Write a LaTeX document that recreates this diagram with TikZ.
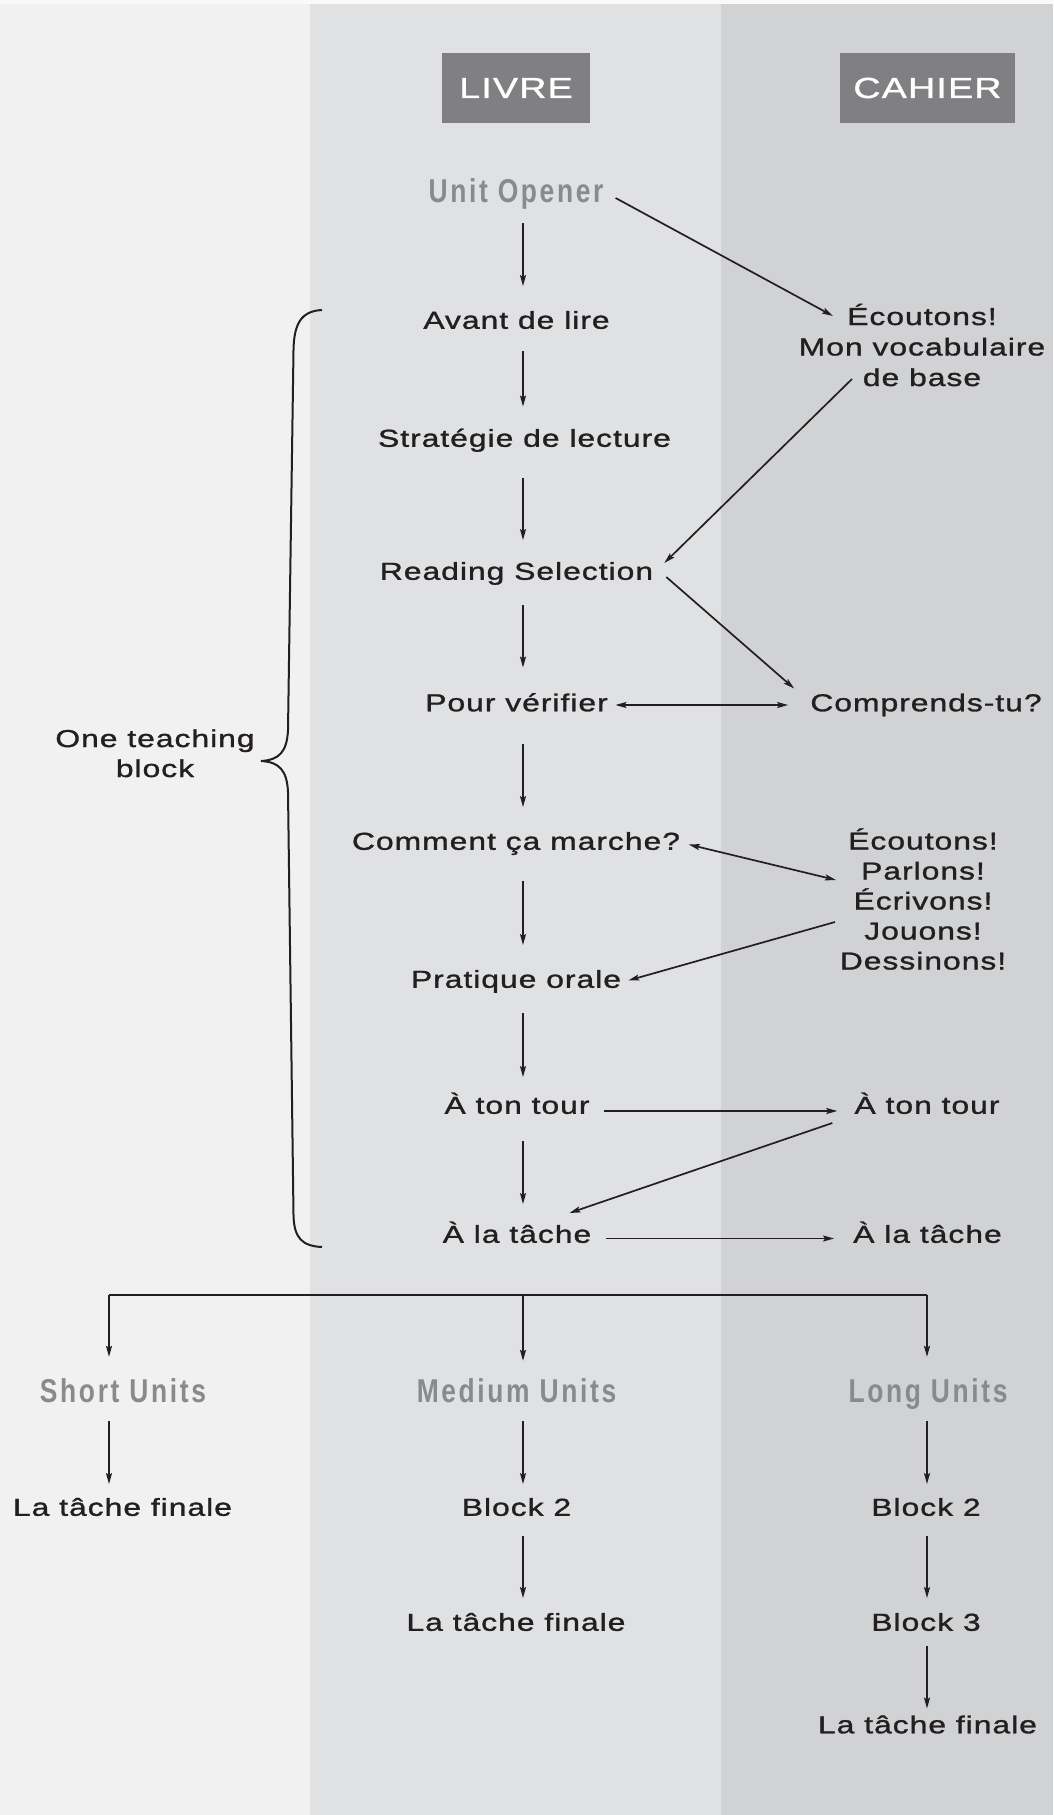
\documentclass[tikz,border=0pt]{standalone}
\usepackage{fontspec}
\usetikzlibrary{arrows.meta,calc}
\newfontfamily\bodyfont{Liberation Sans}[FakeStretch=1.3,LetterSpace=4,FakeBold=1.2]
\newfontfamily\titlefont{Liberation Sans}[FakeStretch=0.8,LetterSpace=8]
\newcommand\fbody{\bodyfont\fontsize{24.5bp}{30.5bp}\selectfont}
\newcommand\fttl{\titlefont\bfseries\fontsize{33bp}{38bp}\selectfont}
\newcommand\fhdr{\bodyfont\fontsize{29bp}{34bp}\selectfont}
\definecolor{ink}{HTML}{231F20}
\definecolor{ttlgray}{HTML}{898A8C}
\definecolor{hdrgray}{HTML}{808083}
\definecolor{bandL}{HTML}{F1F1F1}
\definecolor{bandM}{HTML}{E0E1E3}
\definecolor{bandR}{HTML}{D1D2D4}
\tikzset{
  lbl/.style={font=\fbody, text=ink, inner sep=0pt, text height=17.5bp, text depth=0pt},
  ttl/.style={font=\fttl, text=ttlgray, inner sep=0pt, text height=24bp, text depth=0pt},
  multi/.style={font=\fbody, text=ink, inner sep=0pt, align=center, anchor=base},
  hdr/.style={fill=hdrgray, text=white, font=\fhdr, inner sep=0pt, minimum height=70bp},
  tip/.tip={Stealth[length=11bp,width=6bp,inset=2bp]},
  arr/.style={draw=ink, line width=1.7bp, -tip},
  darr/.style={draw=ink, line width=1.7bp, tip-tip},
}
\begin{document}
\begin{tikzpicture}[x=1bp,y=-1bp]
\useasboundingbox (0,0) rectangle (1053,1815);
% background bands
\fill[bandL] (0,0) rectangle (310,1815);
\fill[bandM] (310,0) rectangle (721,1815);
\fill[bandR] (721,0) rectangle (1053,1815);
\fill[white!60!bandL] (0,0) rectangle (1053,4);

% headers
\node[hdr, minimum width=148bp] (livre) at (516,88) {LIVRE};
\node[hdr, minimum width=175bp] (cahier) at (927.5,88) {CAHIER};

% LIVRE column
\coordinate (colL) at (523,0);
\node[ttl] (uo) at (516,190.5) {Unit Opener};
\node[lbl] (av) at (516.5,320) {Avant de lire};
\node[lbl] (st) at (524.5,438) {Stratégie de lecture};
\node[lbl] (rs) at (516.5,571) {Reading Selection};
\node[lbl] (pv) at (516.5,702.5) {Pour vérifier};
\node[lbl] (cm) at (516,841) {Comment ça marche?};
\node[lbl] (po) at (516,979) {Pratique orale};
\node[lbl] (at1) at (517,1105) {À ton tour};
\node[lbl] (lt1) at (517,1234) {À la tâche};

% CAHIER column (base anchor = baseline of last line)
\node[multi] (ecA) at (922,386) {Écoutons!\\Mon vocabulaire\\de base};
\node[lbl] (ct) at (926,702.5) {Comprends-tu?};
\node[multi, font=\bodyfont\fontsize{24.5bp}{30bp}\selectfont] (ecB) at (923,969.5) {Écoutons!\\Parlons!\\Écrivons!\\Jouons!\\Dessinons!};
\node[lbl] (at2) at (927,1105) {À ton tour};
\node[lbl] (lt2) at (927.5,1234) {À la tâche};

% left label + brace
\node[multi, font=\bodyfont\fontsize{24.5bp}{30bp}\selectfont] (otb) at (155,777) {One teaching\\block};
\draw[ink, line width=2bp]
  (322,310) .. controls (301,311) and (294,324) .. (293.5,350)
  -- (288,730) .. controls (287,752) and (279,760) .. (261,761)
  .. controls (279,762) and (287,770) .. (288,792)
  -- (293.5,1215) .. controls (294,1238) and (302,1246) .. (322,1247);

% vertical arrows in LIVRE column
\draw[arr, shorten <=20.5bp, shorten >=25bp] (uo.south -| colL) -- (av.north -| colL);
\draw[arr, shorten <=22bp, shorten >=22.5bp] (av.south -| colL) -- (st.north -| colL);
\draw[arr, shorten <=31bp, shorten >=22bp] (st.south -| colL) -- (rs.north -| colL);
\draw[arr, shorten <=25bp, shorten >=26bp] (rs.south -| colL) -- (pv.north -| colL);
\draw[arr, shorten <=33bp, shorten >=25bp] (pv.south -| colL) -- (cm.north -| colL);
\draw[arr, shorten <=31bp, shorten >=25bp] (cm.south -| colL) -- (po.north -| colL);
\draw[arr, shorten <=25bp, shorten >=19bp] (po.south -| colL) -- (at1.north -| colL);
\draw[arr, shorten <=27bp, shorten >=21bp] (at1.south -| colL) -- (lt1.north -| colL);

% cross connectors
\draw[arr] ($(uo.east)+(12,7.5)$) -- ($(ecA.base)+(-89,-70)$);
\draw[arr] ($(ecA.base)+(-70,-7)$) -- ($(rs.east)+(11,-8)$);
\draw[arr] ($(rs.east)+(13,6)$) -- ($(ct.west)+(-16,-14)$);
\draw[darr] ($(pv.east)+(7.5,2.5)$) -- ($(ct.west)+(-22,2.5)$);
\draw[darr] ($(cm.east)+(8.5,3.5)$) -- ($(ecB.base)+(-87,-89.5)$);
\draw[arr] ($(ecB.base)+(-88,-47.5)$) -- ($(po.east)+(7,1.5)$);
\draw[arr] ($(at1.east)+(14,6)$) -- ($(at2.west)+(-17,6)$);
\draw[arr] ($(at2.west)+(-22,18)$) -- ($(lt1.east)+(-22,-21)$);
\draw[arr] ($(lt1.east)+(15,4.5)$) -- ($(lt2.west)+(-19,4.5)$);

% bottom tree
\coordinate (tl) at (109,1295);
\coordinate (tm) at (523,1295);
\coordinate (tr) at (927,1295);
\draw[ink, line width=2.6bp] (tl) -- (tr);
\node[ttl] (su) at (123,1390) {Short Units};
\node[ttl] (mu) at (516.5,1390) {Medium Units};
\node[ttl] (lu) at (928,1390) {Long Units};
\draw[arr, shorten >=21bp] (tl) -- (su.north -| tl);
\draw[arr, shorten >=17bp] (tm) -- (mu.north -| tm);
\draw[arr, shorten >=21bp] (tr) -- (lu.north -| tr);

\node[lbl] (ltfS) at (122.5,1507) {La tâche finale};
\node[lbl] (b2M) at (516.5,1507) {Block 2};
\node[lbl] (ltfM) at (516,1622) {La tâche finale};
\node[lbl] (b2L) at (926,1507) {Block 2};
\node[lbl] (b3L) at (926,1622) {Block 3};
\node[lbl] (ltfL) at (927.5,1724.5) {La tâche finale};

\draw[arr, shorten <=19bp, shorten >=14bp] (su.south -| tl) -- (ltfS.north -| tl);
\draw[arr, shorten <=19bp, shorten >=14bp] (mu.south -| tm) -- (b2M.north -| tm);
\draw[arr, shorten <=20bp, shorten >=15bp] (b2M.south -| tm) -- (ltfM.north -| tm);
\draw[arr, shorten <=19bp, shorten >=14bp] (lu.south -| tr) -- (b2L.north -| tr);
\draw[arr, shorten <=20bp, shorten >=15bp] (b2L.south -| tr) -- (b3L.north -| tr);
\draw[arr, shorten <=15bp, shorten >=7bp] (b3L.south -| tr) -- (ltfL.north -| tr);
\end{tikzpicture}
\end{document}
